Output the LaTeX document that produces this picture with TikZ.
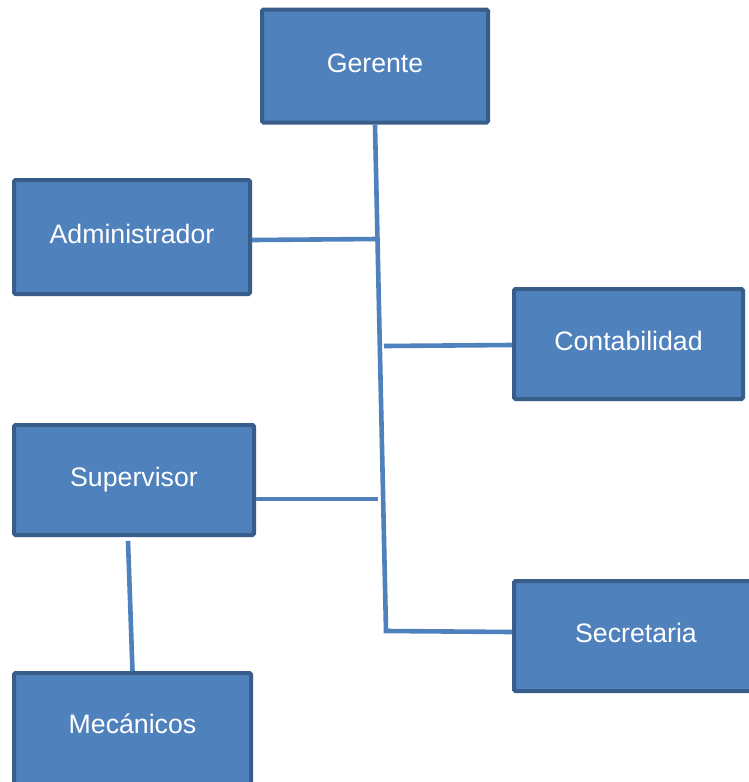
\documentclass[tikz,border=0pt]{standalone}
\usepackage{fontspec}
\setmainfont{Liberation Sans}
\definecolor{boxfill}{HTML}{4F81BD}
\definecolor{boxedge}{HTML}{385D8A}
\definecolor{linkcol}{HTML}{4F81BD}
\begin{document}
\begin{tikzpicture}[x=1pt,y=-1pt,
  orgbox/.style={draw=boxedge,fill=boxfill,line width=4pt,rounded corners=1.5pt,
    inner sep=0pt,text=white,font=\fontsize{26.7}{32}\selectfont,
    text height=19.5pt,text depth=6.5pt,align=center},
  link/.style={draw=linkcol,line width=4.6pt},
  linkshadow/.style={draw=black!22,line width=3.5pt,opacity=0.5}]
  \useasboundingbox (0,0) rectangle (749,782);
  \fill[white] (0,0) rectangle (749,782);
  \clip (0,0) rectangle (749,782);

  % boxes
  \node[orgbox,minimum width=226pt,minimum height=113pt] (ger) at (375,66) {Gerente};
  \node[orgbox,minimum width=236pt,minimum height=114pt] (adm) at (132,237) {Administrador};
  \node[orgbox,minimum width=229pt,minimum height=110pt] (con) at (628.5,344) {Contabilidad};
  \node[orgbox,minimum width=240pt,minimum height=110pt] (sup) at (134,480) {Supervisor};
  \node[orgbox,minimum width=244pt,minimum height=110pt] (sec) at (636,636) {Secretaria};
  \node[orgbox,minimum width=237pt,minimum height=120pt,text depth=18.5pt] (mec) at (132.5,733) {Mecánicos};

  % junction points on the trunk
  \coordinate (ja) at (378,239);
  \coordinate (jc) at (384,346);
  \coordinate (js) at (378,499);
  \coordinate (jb) at (386,631);

  % soft shadows under the connectors
  \begin{scope}[shift={(1.5,2.5)}]
    \draw[linkshadow] (ger.south) -- (jb) -- ([yshift=4pt]sec.west);
    \draw[linkshadow] ([yshift=-3pt]adm.east) -- (ja);
    \draw[linkshadow] (jc) -- ([yshift=-1pt]con.west);
    \draw[linkshadow] ([yshift=-19pt]sup.east) -- (js);
    \draw[linkshadow] ([xshift=-6pt,yshift=-4pt]sup.south) -- (mec.north);
  \end{scope}

  % connectors
  \draw[link] (ger.south) -- (jb) -- ([yshift=4pt]sec.west);
  \draw[link] ([yshift=-3pt]adm.east) -- (ja);
  \draw[link] (jc) -- ([yshift=-1pt]con.west);
  \draw[link] ([yshift=-19pt]sup.east) -- (js);
  \draw[link] ([xshift=-6pt,yshift=-4pt]sup.south) -- (mec.north);
\end{tikzpicture}
\end{document}
